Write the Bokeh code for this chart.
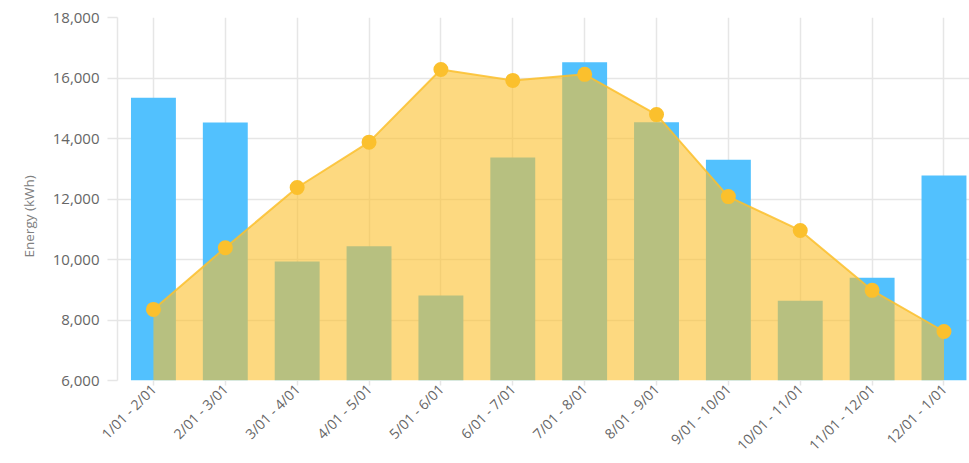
from math import pi
from bokeh.plotting import figure
from bokeh.models import Range1d, FixedTicker, NumeralTickFormatter, Title
from bokeh.embed import file_html
from bokeh.resources import INLINE

periods = ["1/01 - 2/01", "2/01 - 3/01", "3/01 - 4/01", "4/01 - 5/01", "5/01 - 6/01",
           "6/01 - 7/01", "7/01 - 8/01", "8/01 - 9/01", "9/01 - 10/01", "10/01 - 11/01",
           "11/01 - 12/01", "12/01 - 1/01"]
bar_values = [15350, 14530, 9930, 10440, 8810, 13370, 16520, 14540, 13300, 8640, 9400, 12780]
area_values = [8350, 10390, 12380, 13880, 16280, 15920, 16120, 14790, 12080, 10960, 8980, 7620]
y_ticks = [6000, 8000, 10000, 12000, 14000, 16000, 18000]

x = list(range(len(periods)))
Y0 = 6000

p = figure(width=969, height=463, output_backend="svg", toolbar_location=None,
           x_range=Range1d(-0.5, 11.355), y_range=Range1d(Y0, 18000),
           min_border_left=117, min_border_right=0, min_border_top=17, min_border_bottom=60)
p.outline_line_color = None
p.background_fill_color = "white"

p.vbar(x=x, top=bar_values, bottom=Y0, width=0.625, fill_color="#52C1FE", line_color=None)
p.varea(x=x, y1=[Y0] * len(x), y2=area_values, fill_color="#FCBF2C", fill_alpha=0.6)
p.line(x=x, y=area_values, line_color="#FBC02D", line_width=2, line_alpha=0.85)
p.scatter(x=x, y=area_values, size=15, fill_color="#FBC02D", line_color=None)

grid_color = "#e6e6e6"
p.xgrid.ticker = FixedTicker(ticks=x)
p.xgrid.grid_line_color = grid_color
p.xgrid.grid_line_width = 1.5
p.ygrid.ticker = FixedTicker(ticks=y_ticks)
p.ygrid.grid_line_color = grid_color
p.ygrid.grid_line_width = 1.5

p.yaxis.ticker = FixedTicker(ticks=y_ticks)
p.yaxis.formatter = NumeralTickFormatter(format="0,0")
p.yaxis.axis_line_color = grid_color
p.yaxis.axis_line_width = 1.5
p.yaxis.major_tick_line_color = grid_color
p.yaxis.major_tick_line_width = 1.5
p.yaxis.major_tick_out = 10
p.yaxis.major_tick_in = 0
p.yaxis.minor_tick_line_color = None
p.yaxis.major_label_standoff = 8

ytitle = Title(text="Energy (kWh)", align="left", offset=123, standoff=24,
               text_font="Open Sans", text_font_style="normal",
               text_font_size="13.5px", text_color="#808080")
p.add_layout(ytitle, "left")

p.xaxis.ticker = FixedTicker(ticks=x)
p.xaxis.major_label_overrides = {i: s for i, s in enumerate(periods)}
p.xaxis.major_label_orientation = pi / 4
p.xaxis.axis_line_color = None
p.xaxis.major_tick_line_color = grid_color
p.xaxis.major_tick_line_width = 1.5
p.xaxis.major_tick_out = 5
p.xaxis.major_tick_in = 0
p.xaxis.minor_tick_line_color = None
p.xaxis.major_label_standoff = 1

p.yaxis.major_label_text_font_size = "15px"
p.xaxis.major_label_text_font_size = "14px"
for ax in (p.xaxis, p.yaxis):
    ax.major_label_text_font = "Open Sans"
    ax.major_label_text_color = "#666666"

open("out.html", "w").write(file_html(p, INLINE))
